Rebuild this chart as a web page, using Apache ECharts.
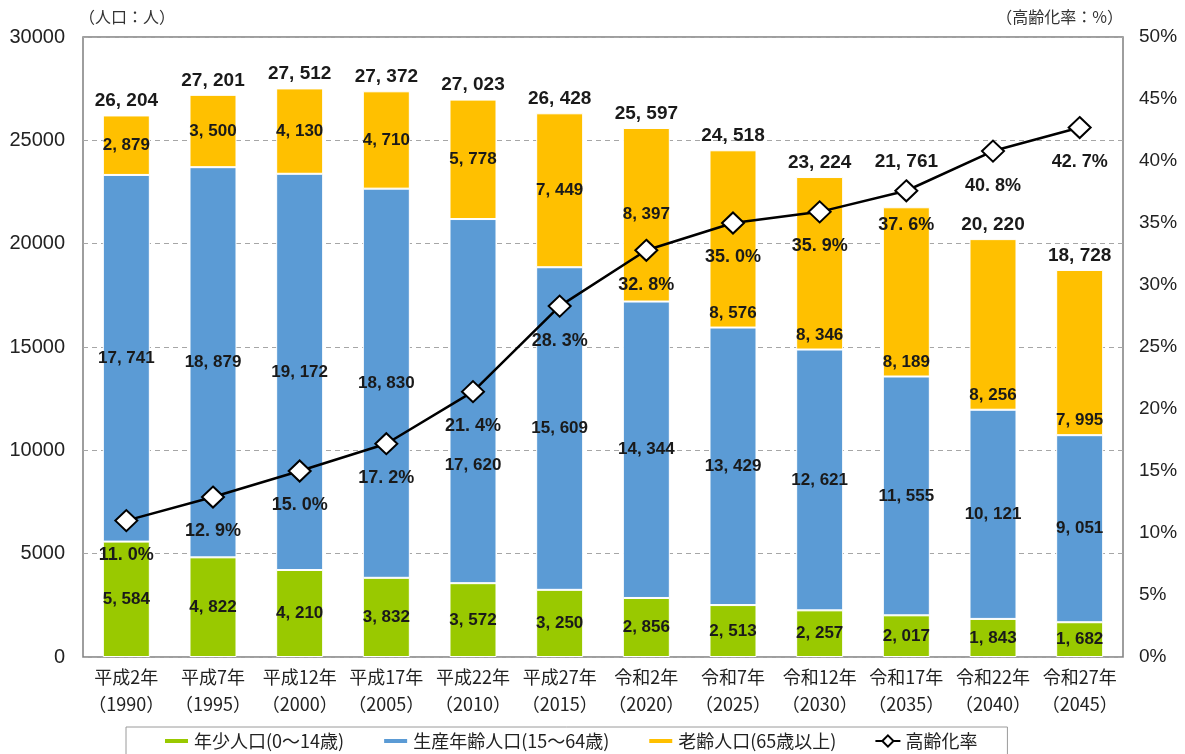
<!DOCTYPE html>
<html><head><meta charset="utf-8">
<script src="https://cdn.jsdelivr.net/npm/echarts@6/dist/echarts.min.js"></script>
<style>html,body{margin:0;padding:0;background:#fff}#c{width:1185px;height:754px}</style>
</head><body><div id="c"></div>
<script>
const categories = ['平成2年\n（1990）','平成7年\n（1995）','平成12年\n（2000）','平成17年\n（2005）','平成22年\n（2010）','平成27年\n（2015）','令和2年\n（2020）','令和7年\n（2025）','令和12年\n（2030）','令和17年\n（2035）','令和22年\n（2040）','令和27年\n（2045）'];
const young = [5584, 4822, 4210, 3832, 3572, 3250, 2856, 2513, 2257, 2017, 1843, 1682];
const working = [17741, 18879, 19172, 18830, 17620, 15609, 14344, 13429, 12621, 11555, 10121, 9051];
const elderly = [2879, 3500, 4130, 4710, 5778, 7449, 8397, 8576, 8346, 8189, 8256, 7995];
const totals = [26204, 27201, 27512, 27372, 27023, 26428, 25597, 24518, 23224, 21761, 20220, 18728];
const agingRate = [11.0, 12.9, 15.0, 17.2, 21.4, 28.3, 32.8, 35.0, 35.9, 37.6, 40.8, 42.7];
const leftTicks = [0, 30000, 5000];
const rightTicks = [0, 50, 5];
const seriesNames = ['年少人口(0〜14歳)', '生産年齢人口(15〜64歳)', '老齢人口(65歳以上)', '高齢化率'];

const numFmt = v => String(v).replace(/\B(?=(\d{3})+(?!\d))/g, ', ');
const pctFmt = v => v.toFixed(1).replace('.', '. ') + '%';
const LBL_FONT = "'Liberation Sans', Arial, sans-serif";
const innerLabel = {show: true, position: 'inside', color: '#1a1a1a', fontWeight: 'bold', fontSize: 17, fontFamily: LBL_FONT,
  formatter: p => numFmt(p.value)};

const elderData = elderly.map((v, i) => i >= 7 ? {value: v, label: {position: 'insideBottom', distance: 6}} : v);
const workData = working.map((v, i) => i === 4 ? {value: v, label: {offset: [0, 64]}} : v);
const totalData = totals.map((v, i) => i === 9 ? {value: 0, label: {distance: 36}} : 0);

const chart = echarts.init(document.getElementById('c'));
const barIcon = 'path://M0,0H25V6H0Z';
chart.setOption({
  animation: false,
  textStyle: {fontFamily: "'Noto Sans CJK JP', sans-serif"},
  grid: {left: 83, right: 62, top: 37, bottom: 97, show: true, borderColor: '#7f7f7f', borderWidth: 1.5, backgroundColor: 'transparent'},
  legend: {
    left: 126, top: 727, padding: [5, 30, 14, 37], itemGap: 38, itemWidth: 25, itemHeight: 14,
    borderColor: '#9a9a9a', borderWidth: 1,
    textStyle: {fontSize: 18, color: '#222'},
    data: [{name: seriesNames[0], icon: barIcon}, {name: seriesNames[1], icon: barIcon}, {name: seriesNames[2], icon: barIcon}, {name: seriesNames[3]}]
  },
  xAxis: {
    type: 'category', data: categories,
    axisLine: {show: false}, axisTick: {show: false},
    axisLabel: {fontSize: 18, color: '#222', lineHeight: 27, margin: 7, interval: 0}
  },
  yAxis: [
    {type: 'value', min: leftTicks[0], max: leftTicks[1], interval: leftTicks[2],
     name: '（人口：人）', nameLocation: 'end', nameGap: 12, nameTextStyle: {fontSize: 16, color: '#333', align: 'left', padding: [0, 0, 0, -4]},
     axisLine: {show: false}, axisTick: {show: false},
     axisLabel: {fontSize: 20, color: '#222', margin: 18, formatter: v => String(v), fontFamily: "'Liberation Sans', Arial, sans-serif"},
     splitLine: {show: true, lineStyle: {type: [5, 4], color: '#a6a6a6', width: 1}}},
    {type: 'value', min: rightTicks[0], max: rightTicks[1], interval: rightTicks[2],
     name: '（高齢化率：%）', nameLocation: 'end', nameGap: 12, nameTextStyle: {fontSize: 16, color: '#333', align: 'right', padding: [0, 0, 0, 0]},
     axisLine: {show: false}, axisTick: {show: false},
     axisLabel: {fontSize: 19, color: '#222', margin: 16, formatter: '{value}%', fontFamily: "'Liberation Sans', Arial, sans-serif"},
     splitLine: {show: false}}
  ],
  series: [
    {name: seriesNames[0], type: 'bar', stack: 'pop', data: young, barWidth: 47,
     itemStyle: {color: '#99C900', borderColor: '#fff', borderWidth: 1}, label: innerLabel},
    {name: seriesNames[1], type: 'bar', stack: 'pop', data: workData,
     itemStyle: {color: '#5B9BD5', borderColor: '#fff', borderWidth: 1}, label: innerLabel},
    {name: seriesNames[2], type: 'bar', stack: 'pop', data: elderData,
     itemStyle: {color: '#FFC000', borderColor: '#fff', borderWidth: 1}, label: innerLabel},
    {name: 'total', type: 'bar', stack: 'pop', data: totalData, itemStyle: {color: 'transparent'},
     label: {show: true, position: 'top', distance: 5, color: '#1a1a1a', fontWeight: 'bold', fontSize: 19, fontFamily: LBL_FONT,
       formatter: p => numFmt(totals[p.dataIndex])}},
    {name: seriesNames[3], type: 'line', yAxisIndex: 1, data: agingRate, z: 10,
     symbol: 'diamond', symbolSize: [22, 21],
     lineStyle: {color: '#000', width: 2.5},
     itemStyle: {color: '#fff', borderColor: '#000', borderWidth: 2},
     label: {show: true, position: 'bottom', distance: 14, color: '#1a1a1a', fontWeight: 'bold', fontSize: 18, fontFamily: LBL_FONT,
       formatter: p => pctFmt(p.value)}}
  ]
});
</script></body></html>
